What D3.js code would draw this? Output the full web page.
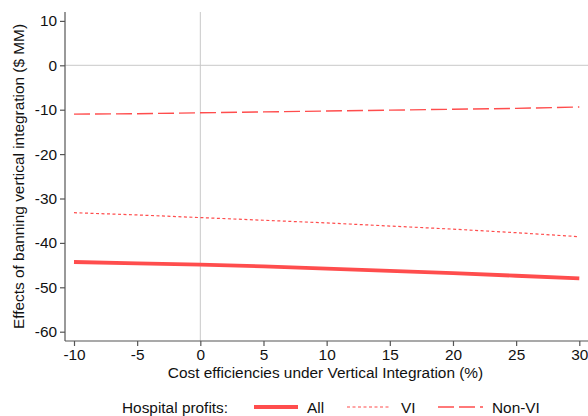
<!DOCTYPE html>
<html>
<head>
<meta charset="utf-8">
<script src="https://cdn.jsdelivr.net/npm/d3@7"></script>
<style>
  body { margin: 0; background: #fff; }
  svg { display: block; font-family: "Liberation Sans", Arial, Helvetica, sans-serif; }
</style>
</head>
<body>
<svg id="chart"></svg>
<script>
const W = 588, H = 416;

// cost efficiencies (%) and effects ($ MM)
const xs = [-10, -5, 0, 5, 10, 15, 20, 25, 30];
const allVals   = [-44.3, -44.6, -44.9, -45.3, -45.8, -46.3, -46.8, -47.4, -48.0];
const viVals    = [-33.2, -33.7, -34.3, -34.9, -35.5, -36.2, -36.9, -37.7, -38.6];
const nonviVals = [-11.0, -10.9, -10.7, -10.5, -10.3, -10.1, -9.9, -9.7, -9.4];
const xTicks = [-10, -5, 0, 5, 10, 15, 20, 25, 30];
const yTicks = [10, 0, -10, -20, -30, -40, -50, -60];

const red = "#ff4d4d";
const FS = "15.4px";
const series = [
  {name: "All", vals: allVals, width: 3.8, dash: null},
  {name: "VI", vals: viVals, width: 1.2, dash: "3 2.5"},
  {name: "Non-VI", vals: nonviVals, width: 1.4, dash: "16 5"}
];

const svg = d3.select("#chart").attr("width", W).attr("height", H);

const x = d3.scaleLinear().domain([-10, 30]).range([74, 579.3]);
const y = d3.scaleLinear().domain([0, -60]).range([65.3, 331.7]);
const plotL = 65, plotR = 588, plotT = 12, plotB = 341;

// reference lines at zero
svg.append("line")
  .attr("x1", plotL).attr("x2", plotR)
  .attr("y1", y(0)).attr("y2", y(0))
  .attr("stroke", "#c8c8c8").attr("stroke-width", 1);
svg.append("line")
  .attr("x1", x(0)).attr("x2", x(0))
  .attr("y1", plotT).attr("y2", plotB)
  .attr("stroke", "#c8c8c8").attr("stroke-width", 1);

const fmt = d => String(d); // plain hyphen minus, like the original

// y axis
const gy = svg.append("g").attr("transform", `translate(${plotL},0)`)
  .call(d3.axisLeft(y).tickValues(yTicks).tickFormat(fmt).tickSize(5).tickPadding(3).tickSizeOuter(0));
gy.select(".domain").attr("d", `M0,${plotT}V${plotB}`);
// x axis
const gx = svg.append("g").attr("transform", `translate(0,${plotB})`)
  .call(d3.axisBottom(x).tickValues(xTicks).tickFormat(fmt).tickSize(5).tickPadding(3).tickSizeOuter(0));
gx.select(".domain").attr("d", `M${plotL},0H${plotR}`);

[gx, gy].forEach(g => {
  g.selectAll(".domain").attr("stroke", "#555").attr("stroke-width", 1.2);
  g.selectAll(".tick line").attr("stroke", "#555").attr("stroke-width", 1.2);
  g.selectAll("text").attr("fill", "#111").style("font-size", FS)
    .style("font-family", "Liberation Sans, Arial, sans-serif");
});

// axis titles
svg.append("text")
  .attr("x", (plotL + plotR) / 2 - 1).attr("y", 378)
  .attr("text-anchor", "middle").attr("fill", "#111")
  .style("font-size", FS)
  .text("Cost efficiencies under Vertical Integration (%)");
svg.append("text")
  .attr("transform", `translate(24,${(plotT + plotB) / 2}) rotate(-90)`)
  .attr("text-anchor", "middle").attr("fill", "#111")
  .style("font-size", FS)
  .text("Effects of banning vertical integration ($ MM)");

// lines
const line = d3.line().x((d, i) => x(xs[i])).y(d => y(d));
series.forEach(s => {
  svg.append("path")
    .attr("d", line(s.vals))
    .attr("fill", "none")
    .attr("stroke", red)
    .attr("stroke-width", s.width)
    .attr("stroke-dasharray", s.dash);
});

// legend
const ly = 407;
svg.append("text").attr("x", 122).attr("y", ly + 5.5).attr("fill", "#111")
  .style("font-size", FS).text("Hospital profits:");
const legPos = [[254, 298, 307], [347, 391, 401], [438, 483, 492]];
series.forEach((s, i) => {
  const [a, b, t] = legPos[i];
  svg.append("line").attr("x1", a).attr("x2", b).attr("y1", ly).attr("y2", ly)
    .attr("stroke", red).attr("stroke-width", s.width).attr("stroke-dasharray", s.dash);
  svg.append("text").attr("x", t).attr("y", ly + 5.5).attr("fill", "#111")
    .style("font-size", FS).text(s.name);
});
</script>
</body>
</html>
